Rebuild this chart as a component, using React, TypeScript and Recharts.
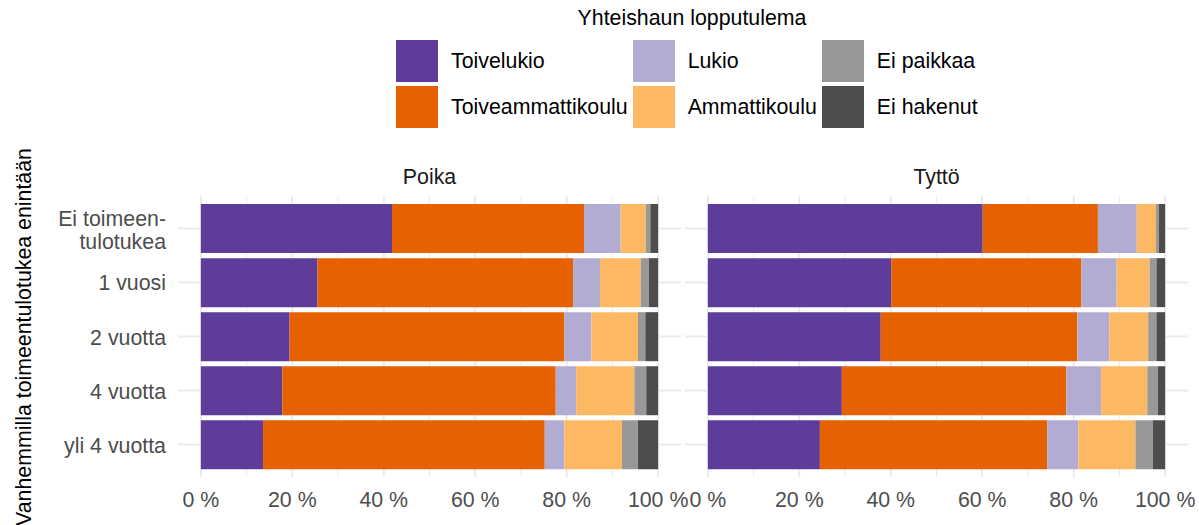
import { BarChart, Bar, XAxis, YAxis, CartesianGrid } from 'recharts';

const FONT = '"Liberation Sans", Arial, sans-serif';
const FS = 21.33;

// categories, top to bottom
const categories = ['Ei toimeen-\ntulotukea', '1 vuosi', '2 vuotta', '4 vuotta', 'yli 4 vuotta'];

// Poika (share %, left to right in stack order)
const poikaToivelukio = [41.8, 25.5, 19.4, 17.8, 13.6];
const poikaToiveammattikoulu = [42.0, 55.9, 60.1, 59.8, 61.6];
const poikaLukio = [8.0, 5.9, 5.9, 4.5, 4.3];
const poikaAmmattikoulu = [5.5, 8.9, 10.2, 12.7, 12.6];
const poikaEiPaikkaa = [1.0, 1.8, 1.6, 2.6, 3.5];
const poikaEiHakenut = [1.7, 2.0, 2.8, 2.6, 4.4];

// Tyttö
const tyttoToivelukio = [60.1, 40.1, 37.8, 29.3, 24.5];
const tyttoToiveammattikoulu = [25.2, 41.6, 43.0, 49.1, 49.7];
const tyttoLukio = [8.5, 7.7, 7.0, 7.6, 6.8];
const tyttoAmmattikoulu = [4.2, 7.2, 8.5, 10.1, 12.5];
const tyttoEiPaikkaa = [0.6, 1.5, 1.8, 2.3, 3.8];
const tyttoEiHakenut = [1.4, 1.9, 1.9, 1.6, 2.7];

// every 10 %, labels only on the multiples of 20
const xTicks = [0, 10, 20, 30, 40, 50, 60, 70, 80, 90, 100];

const SERIES = [
  { key: 'toivelukio', name: 'Toivelukio', color: '#5E3C99' },
  { key: 'toiveammattikoulu', name: 'Toiveammattikoulu', color: '#E66101' },
  { key: 'lukio', name: 'Lukio', color: '#B2ABD2' },
  { key: 'ammattikoulu', name: 'Ammattikoulu', color: '#FDB863' },
  { key: 'eiPaikkaa', name: 'Ei paikkaa', color: '#999999' },
  { key: 'eiHakenut', name: 'Ei hakenut', color: '#4D4D4D' },
];

const buildRows = (cols: number[][]) =>
  categories.map((cat, i) => {
    const row: Record<string, string | number> = { cat };
    SERIES.forEach((s, j) => {
      row[s.key] = cols[j][i];
    });
    return row;
  });

const poikaData = buildRows([
  poikaToivelukio,
  poikaToiveammattikoulu,
  poikaLukio,
  poikaAmmattikoulu,
  poikaEiPaikkaa,
  poikaEiHakenut,
]);

const tyttoData = buildRows([
  tyttoToivelukio,
  tyttoToiveammattikoulu,
  tyttoLukio,
  tyttoAmmattikoulu,
  tyttoEiPaikkaa,
  tyttoEiHakenut,
]);

const CategoryTick = (props: any) => {
  const { x, y, payload } = props;
  const lines = String(payload.value).split('\n');
  const first = lines.length > 1 ? y - 2 : y + 8;
  return (
    <text x={x} y={first} textAnchor="end" fill="#4D4D4D" fontSize={FS} fontFamily={FONT}>
      {lines.map((l, i) => (
        <tspan key={i} x={x} dy={i === 0 ? 0 : 23}>
          {l}
        </tspan>
      ))}
    </text>
  );
};

// major lines 2px, minor (odd index) 1px
const gridLine = (p: any) => (
  <line
    key={p.key}
    x1={p.x1}
    y1={p.y1}
    x2={p.x2}
    y2={p.y2}
    stroke="#EBEBEB"
    strokeWidth={p.index % 2 ? 1 : 2}
  />
);

// one facet panel; plot area is `width` wide, extra room on the right for the last tick label
function Panel({ data, showY, left, width, title }: any) {
  const yw = showY ? 178 : 0;
  return (
    <div style={{ position: 'absolute', left, top: 160 }}>
      <div
        style={{
          position: 'absolute',
          left: yw,
          width: width - yw,
          top: 5,
          textAlign: 'center',
          fontSize: FS,
          lineHeight: '24px',
          color: '#1A1A1A',
        }}
      >
        {title}
      </div>
      <div style={{ position: 'absolute', left: 0, top: 36 }}>
        <BarChart
          width={width + 30}
          height={326}
          data={data}
          layout="vertical"
          margin={{ top: 0, right: 30, bottom: 0, left: 0 }}
          barCategoryGap="5%"
        >
          <CartesianGrid stroke="#EBEBEB" strokeWidth={2} vertical={gridLine} syncWithTicks />
          <XAxis
            type="number"
            domain={[-5, 105]}
            ticks={xTicks}
            interval={0}
            allowDataOverflow
            axisLine={false}
            tickLine={false}
            tickMargin={9}
            height={45}
            tick={{ fill: '#4D4D4D', fontSize: FS, fontFamily: FONT }}
            tickFormatter={(v: number) => (v % 20 === 0 ? `${v} %` : '')}
          />
          <YAxis
            type="category"
            dataKey="cat"
            hide={!showY}
            width={178}
            axisLine={false}
            tickLine={false}
            tickMargin={6}
            padding={{ top: 5.4, bottom: 5.4 }}
            tick={<CategoryTick />}
            interval={0}
          />
          {SERIES.map((s) => (
            <Bar
              key={s.key}
              dataKey={s.key}
              name={s.name}
              stackId="a"
              fill={s.color}
              isAnimationActive={false}
            />
          ))}
        </BarChart>
      </div>
    </div>
  );
}

function LegendBlock() {
  const cols = [SERIES.slice(0, 2), SERIES.slice(2, 4), SERIES.slice(4, 6)];
  return (
    <>
      <div
        style={{
          position: 'absolute',
          left: 492,
          width: 400,
          top: 6,
          textAlign: 'center',
          fontSize: FS,
          lineHeight: '24px',
          color: '#000',
        }}
      >
        Yhteishaun lopputulema
      </div>
      <div style={{ position: 'absolute', left: 396, top: 40, display: 'flex', gap: 5 }}>
        {cols.map((col, ci) => (
          <div key={ci} style={{ display: 'flex', flexDirection: 'column', gap: 4 }}>
            {col.map((s) => (
              <div key={s.key} style={{ display: 'flex', alignItems: 'center', height: 42 }}>
                <div style={{ width: 42, height: 42, background: s.color }} />
                <div style={{ marginLeft: 13, fontSize: FS, lineHeight: '22px', color: '#000' }}>
                  {s.name}
                </div>
              </div>
            ))}
          </div>
        ))}
      </div>
    </>
  );
}

export default function App() {
  return (
    <div
      style={{
        position: 'absolute',
        left: 0,
        top: 0,
        width: 1199,
        height: 525,
        background: '#fff',
        fontFamily: FONT,
        overflow: 'hidden',
      }}
    >
      <LegendBlock />
      <div
        style={{
          position: 'absolute',
          left: 24 - 200,
          top: 337 - 12,
          width: 400,
          height: 24,
          lineHeight: '24px',
          fontSize: FS,
          textAlign: 'center',
          color: '#000',
          transform: 'rotate(-90deg)',
          transformOrigin: 'center',
          whiteSpace: 'nowrap',
        }}
      >
        Vanhemmilla toimeentulotukea enintään
      </div>
      <Panel data={poikaData} showY left={0} width={681} title="Poika" />
      <Panel data={tyttoData} showY={false} left={685} width={503} title="Tyttö" />
    </div>
  );
}
